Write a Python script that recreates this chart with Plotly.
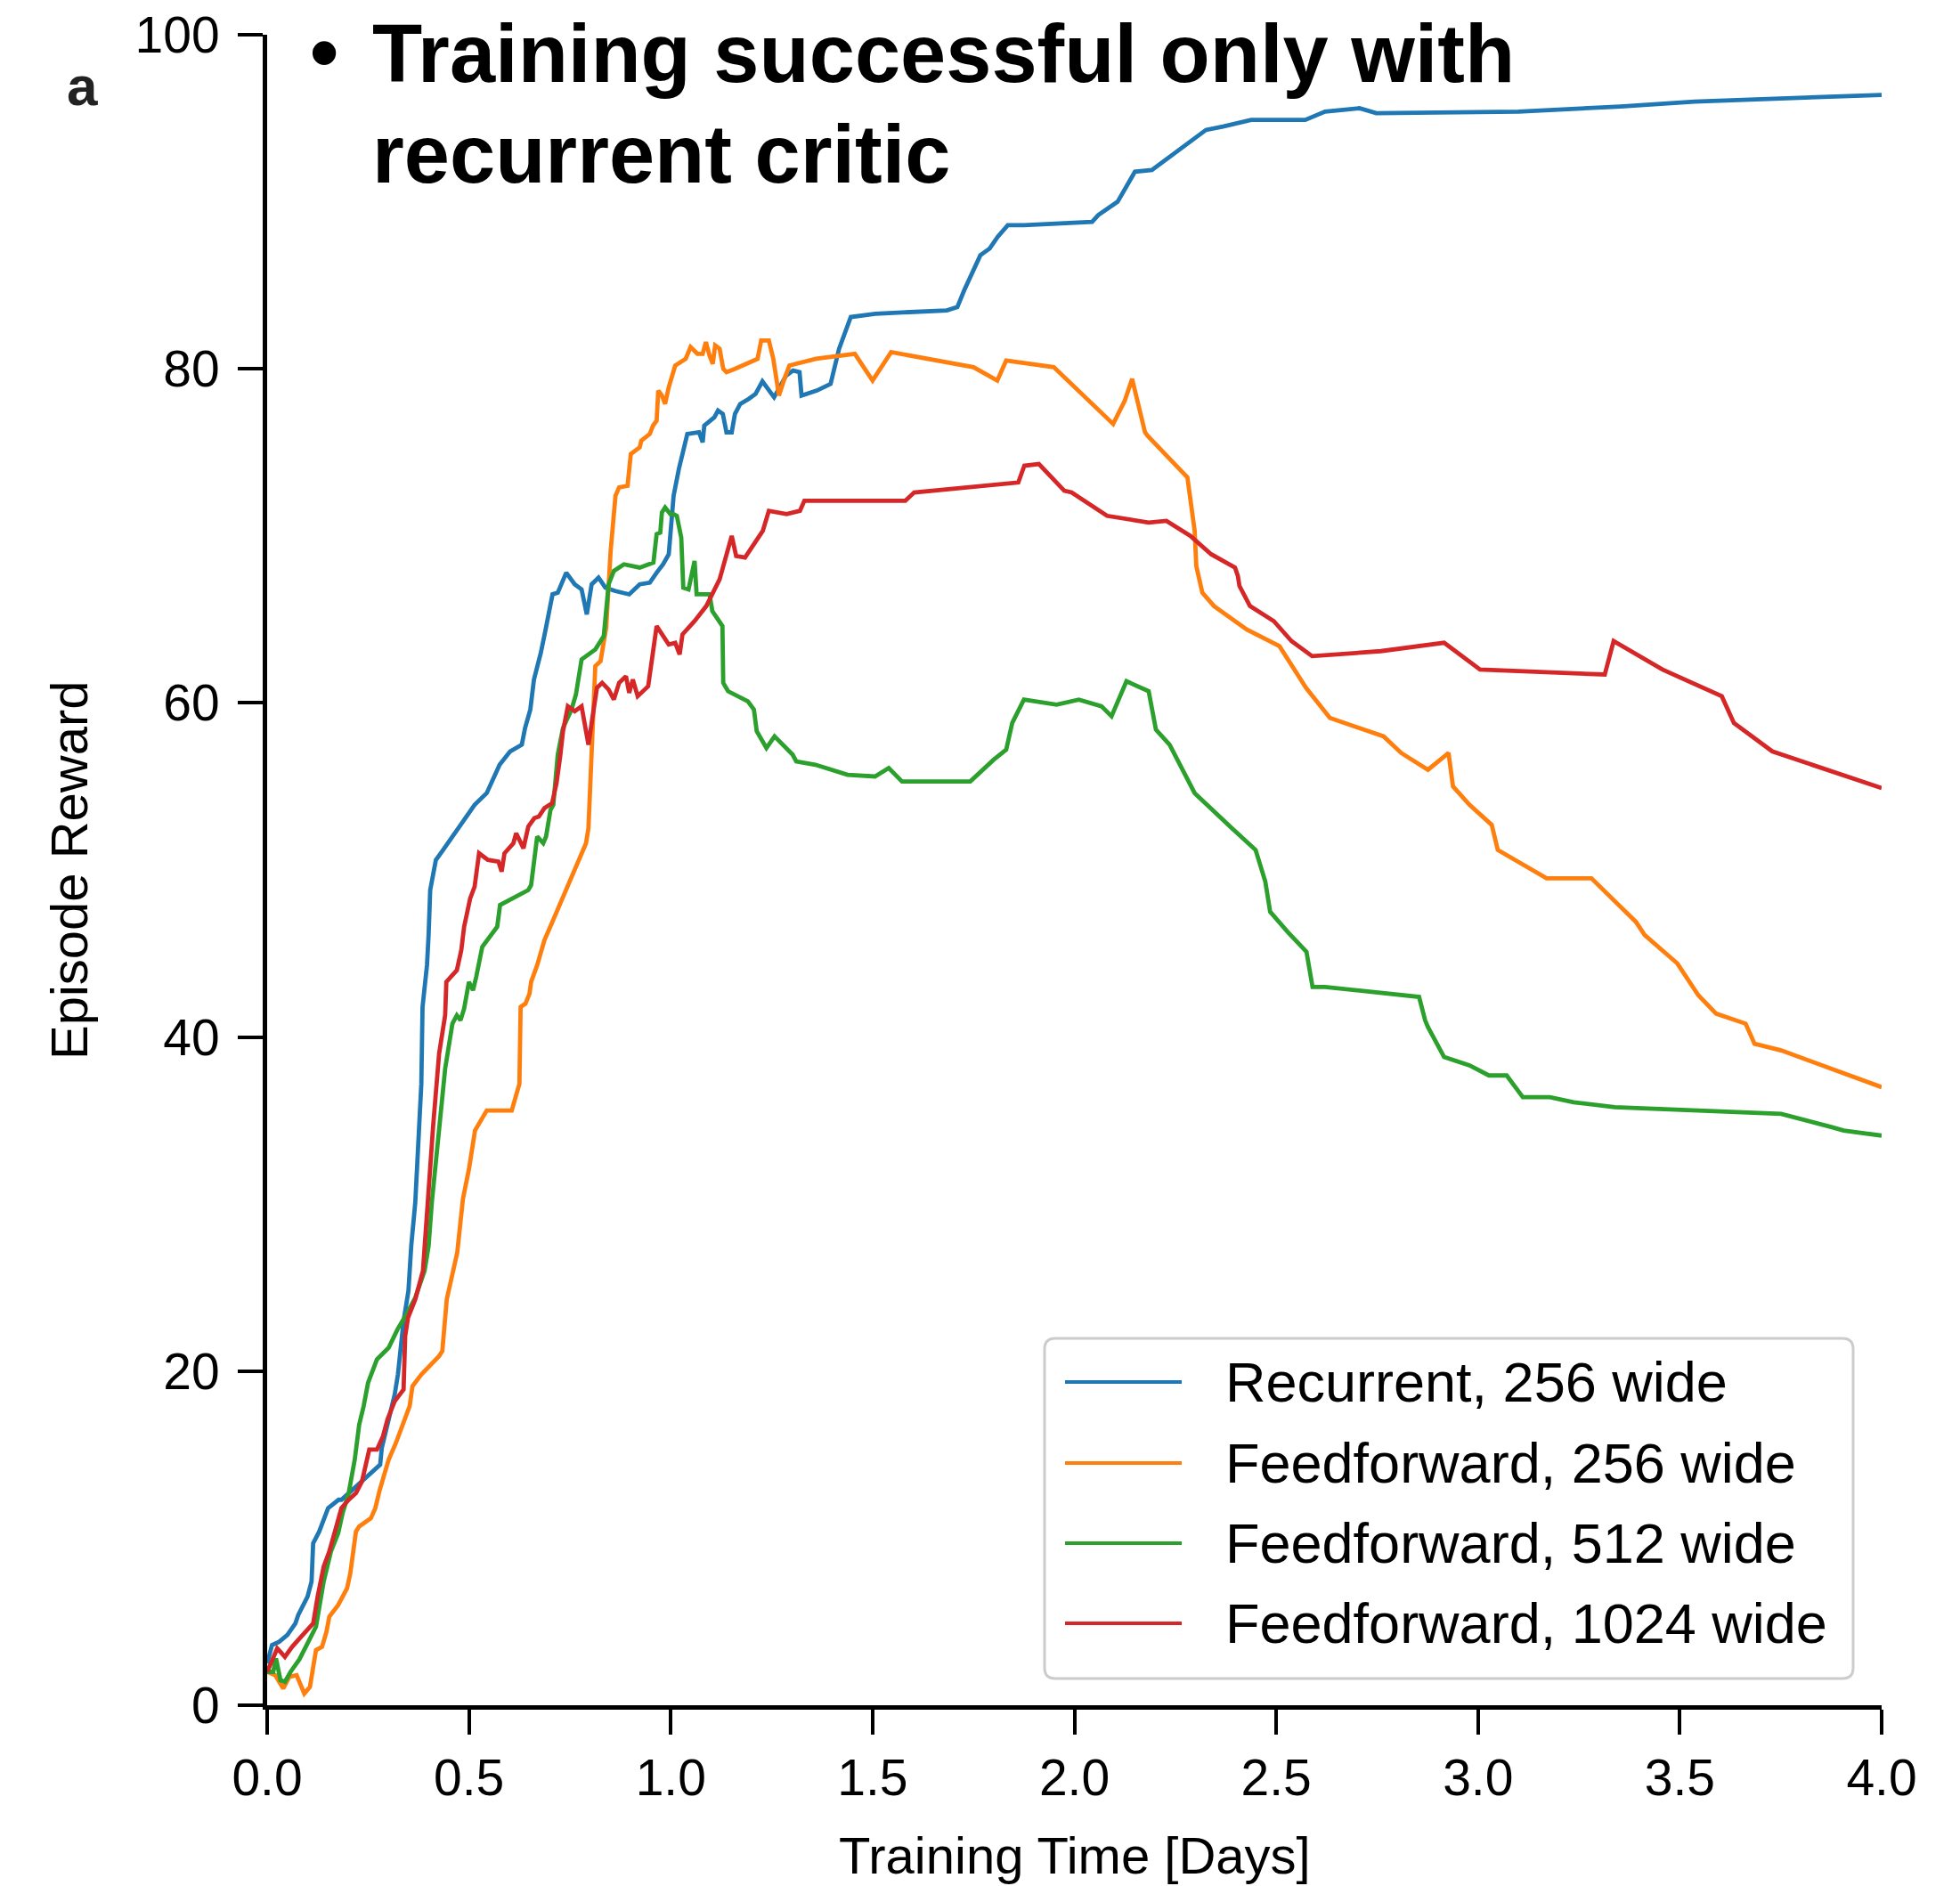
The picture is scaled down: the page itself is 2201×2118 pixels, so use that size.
import plotly.graph_objects as go

# ---- data: episode reward vs training time (days) for each critic ----
recurrent_256_days = [0.0, 0.012, 0.03, 0.05, 0.07, 0.077, 0.1, 0.11, 0.114, 0.129, 0.151, 0.177, 0.184,
                      0.28, 0.284, 0.316, 0.324, 0.338, 0.35, 0.357, 0.367, 0.382, 0.385, 0.396, 0.4,
                      0.404, 0.411, 0.418, 0.433, 0.47, 0.507, 0.514, 0.544, 0.558, 0.576, 0.602, 0.631,
                      0.639, 0.652, 0.661, 0.678, 0.69, 0.707, 0.72, 0.741, 0.762, 0.779, 0.792, 0.804,
                      0.821, 0.838, 0.863, 0.897, 0.923, 0.948, 0.965, 0.981, 0.995, 0.999, 1.007, 1.02,
                      1.037, 1.041, 1.07, 1.079, 1.083, 1.108, 1.117, 1.129, 1.138, 1.151, 1.159, 1.172,
                      1.193, 1.21, 1.227, 1.24, 1.256, 1.286, 1.303, 1.319, 1.324, 1.362, 1.396, 1.417,
                      1.446, 1.507, 1.684, 1.71, 1.727, 1.767, 1.79, 1.81, 1.835, 1.875, 2.044, 2.059,
                      2.107, 2.15, 2.192, 2.326, 2.368, 2.438, 2.572, 2.621, 2.706, 2.748, 3.1, 3.353,
                      3.536, 4.0]
recurrent_256_reward = [2.5, 3.6, 3.8, 4.2, 4.9, 5.4, 6.5, 7.4, 9.7, 10.4, 11.8, 12.3, 12.3,
                        14.4, 15.4, 18.6, 19.8, 23.0, 24.8, 27.5, 30.1, 37.2, 41.8, 44.3, 46.1,
                        48.8, 49.7, 50.6, 51.1, 52.4, 53.6, 53.9, 54.6, 55.4, 56.3, 57.1, 57.5,
                        58.5, 59.6, 61.4, 63.0, 64.4, 66.5, 66.6, 67.8, 67.1, 66.8, 65.3, 67.1,
                        67.5, 66.9, 66.7, 66.5, 67.1, 67.2, 67.8, 68.3, 68.9, 70.4, 72.4, 74.0,
                        75.7, 76.1, 76.2, 75.6, 76.6, 77.1, 77.5, 77.3, 76.2, 76.2, 77.3, 77.9,
                        78.2, 78.5, 79.25, 78.8, 78.3, 79.6, 79.9, 79.8, 78.4, 78.7, 79.1, 81.2,
                        83.1, 83.3, 83.5, 83.7, 84.7, 86.8, 87.2, 87.9, 88.6, 88.6, 88.8, 89.2,
                        90.0, 91.8, 91.9, 94.3, 94.5, 94.9, 94.9, 95.4, 95.6, 95.3, 95.4, 95.7,
                        96.0, 96.4]

ff_256_days = [0.0, 0.02, 0.04, 0.055, 0.073, 0.092, 0.106, 0.121, 0.136, 0.147, 0.154, 0.176, 0.198,
               0.206, 0.22, 0.228, 0.257, 0.268, 0.279, 0.301, 0.319, 0.342, 0.353, 0.36, 0.382, 0.426,
               0.434, 0.445, 0.463, 0.471, 0.485, 0.5, 0.515, 0.544, 0.606, 0.625, 0.628, 0.64, 0.65,
               0.654, 0.669, 0.687, 0.705, 0.728, 0.757, 0.772, 0.79, 0.796, 0.8, 0.805, 0.813, 0.826,
               0.84, 0.851, 0.863, 0.872, 0.893, 0.901, 0.923, 0.927, 0.948, 0.956, 0.965, 0.969, 0.978,
               0.986, 0.995, 1.011, 1.037, 1.049, 1.066, 1.079, 1.087, 1.096, 1.104, 1.11, 1.121, 1.13,
               1.138, 1.159, 1.193, 1.215, 1.224, 1.243, 1.254, 1.268, 1.283, 1.294, 1.36, 1.456, 1.5,
               1.546, 1.75, 1.809, 1.831, 1.949, 2.096, 2.125, 2.143, 2.175, 2.181, 2.28, 2.298, 2.302,
               2.317, 2.346, 2.427, 2.508, 2.574, 2.633, 2.766, 2.81, 2.876, 2.927, 2.938, 2.979, 3.034,
               3.049, 3.17, 3.281, 3.391, 3.413, 3.494, 3.546, 3.59, 3.663, 3.685, 3.751, 4.0]
ff_256_reward = [2.0, 1.8, 1.0, 1.7, 1.8, 0.7, 1.1, 3.3, 3.5, 4.4, 5.3, 6.0, 7.0,
                 7.9, 10.4, 10.7, 11.2, 11.8, 12.9, 14.7, 15.7, 17.3, 17.9, 19.1, 19.8, 20.9,
                 21.2, 24.3, 26.2, 27.1, 30.3, 32.1, 34.4, 35.6, 35.6, 37.2, 41.8, 42.0, 42.6,
                 43.3, 44.3, 45.8, 46.8, 48.1, 49.8, 50.5, 51.6, 52.5, 55.0, 57.0, 62.2, 62.5,
                 64.5, 69.1, 72.4, 72.9, 73.0, 74.9, 75.3, 75.7, 76.1, 76.6, 76.9, 78.7, 78.4,
                 77.9, 78.9, 80.2, 80.6, 81.3, 80.9, 80.9, 81.6, 80.8, 80.3, 81.4, 81.2, 80.0,
                 79.8, 80.0, 80.4, 80.6, 81.7, 81.7, 80.6, 78.4, 79.5, 80.2, 80.6, 80.9, 79.3,
                 81.0, 80.1, 79.3, 80.5, 80.1, 76.7, 78.1, 79.4, 76.2, 76.0, 73.5, 70.3, 68.2,
                 66.6, 65.8, 64.4, 63.4, 60.9, 59.1, 58.0, 57.0, 56.0, 57.0, 55.0, 53.9, 52.7,
                 51.2, 49.5, 49.5, 46.9, 46.1, 44.4, 42.5, 41.4, 40.8, 39.6, 39.2, 37.0]

ff_512_days = [0.0, 0.015, 0.022, 0.033, 0.044, 0.058, 0.08, 0.103, 0.121, 0.14, 0.158, 0.176, 0.187,
               0.202, 0.217, 0.228, 0.239, 0.25, 0.272, 0.301, 0.323, 0.345, 0.367, 0.39, 0.4, 0.408,
               0.422, 0.441, 0.459, 0.47, 0.479, 0.488, 0.5, 0.51, 0.518, 0.533, 0.57, 0.577, 0.647,
               0.654, 0.669, 0.684, 0.691, 0.702, 0.709, 0.72, 0.733, 0.754, 0.765, 0.779, 0.813,
               0.834, 0.846, 0.859, 0.884, 0.923, 0.957, 0.965, 0.974, 0.978, 0.986, 0.999, 1.007,
               1.015, 1.026, 1.031, 1.044, 1.059, 1.064, 1.096, 1.103, 1.128, 1.13, 1.142, 1.191,
               1.206, 1.213, 1.237, 1.257, 1.302, 1.311, 1.358, 1.438, 1.506, 1.54, 1.573, 1.742,
               1.8, 1.831, 1.846, 1.875, 1.956, 2.011, 2.067, 2.092, 2.129, 2.184, 2.202, 2.236,
               2.298, 2.39, 2.449, 2.473, 2.485, 2.528, 2.575, 2.59, 2.621, 2.854, 2.869, 2.876,
               2.916, 2.979, 3.027, 3.071, 3.111, 3.178, 3.237, 3.339, 3.751, 3.877, 3.906, 4.0]
ff_512_reward = [2.0, 2.0, 2.8, 1.5, 1.4, 2.0, 2.75, 3.8, 4.7, 7.4, 9.2, 10.3, 11.5,
                 12.7, 14.7, 16.8, 17.9, 19.3, 20.7, 21.4, 22.5, 23.4, 24.4, 26.0, 27.5, 30.1,
                 33.7, 38.1, 40.8, 41.3, 41.0, 41.7, 43.3, 42.8, 43.6, 45.4, 46.6, 47.9, 48.8,
                 49.1, 52.0, 51.6, 52.0, 53.6, 53.9, 56.9, 58.5, 59.6, 60.5, 62.6, 63.2,
                 64.0, 67.1, 67.9, 68.3, 68.1, 68.4, 70.1, 70.2, 71.4, 71.7, 71.3, 71.3,
                 71.2, 69.9, 66.9, 66.8, 68.5, 66.5, 66.5, 65.5, 64.6, 61.2, 60.7, 60.1,
                 59.6, 58.3, 57.3, 58.0, 56.9, 56.5, 56.3, 55.7, 55.6, 56.1, 55.3, 55.3,
                 56.6, 57.2, 58.8, 60.2, 59.9, 60.2, 59.8, 59.2, 61.3, 60.7, 58.4, 57.5,
                 54.6, 52.5, 51.2, 49.3, 47.5, 46.3, 45.1, 43.0, 43.0, 42.4, 41.0, 40.6,
                 38.8, 38.3, 37.7, 37.7, 36.4, 36.4, 36.1, 35.8, 35.4, 34.6, 34.4, 34.1]

ff_1024_days = [0.0, 0.01, 0.025, 0.044, 0.062, 0.088, 0.114, 0.125, 0.14, 0.154, 0.169, 0.184, 0.202,
                0.22, 0.235, 0.253, 0.272, 0.287, 0.298, 0.316, 0.338, 0.342, 0.349, 0.367, 0.386,
                0.39, 0.397, 0.411, 0.426, 0.441, 0.444, 0.455, 0.47, 0.481, 0.488, 0.503, 0.514,
                0.525, 0.547, 0.573, 0.581, 0.588, 0.61, 0.617, 0.635, 0.647, 0.662, 0.673, 0.687,
                0.706, 0.717, 0.726, 0.733, 0.745, 0.762, 0.779, 0.796, 0.804, 0.817, 0.83, 0.846,
                0.859, 0.872, 0.889, 0.897, 0.906, 0.918, 0.944, 0.965, 0.995, 1.011, 1.022, 1.029,
                1.059, 1.088, 1.121, 1.151, 1.162, 1.184, 1.228, 1.243, 1.287, 1.32, 1.331, 1.581,
                1.603, 1.861, 1.876, 1.912, 1.975, 1.993, 2.081, 2.184, 2.228, 2.287, 2.339, 2.398,
                2.405, 2.409, 2.435, 2.494, 2.538, 2.589, 2.759, 2.916, 3.005, 3.314, 3.336, 3.457,
                3.604, 3.634, 3.729, 4.0]
ff_1024_reward = [2.0, 2.6, 3.4, 2.9, 3.5, 4.2, 4.9, 6.5, 8.3, 9.2, 10.6, 11.8, 12.3,
                  12.7, 13.4, 15.3, 15.3, 16.1, 17.1, 18.2, 18.9, 22.1, 23.2, 24.3, 26.0,
                  27.5, 30.1, 34.6, 39.0, 41.3, 43.3, 43.6, 44.0, 45.2, 46.6, 48.3, 49.0,
                  51.0, 50.6, 50.5, 49.9, 51.0, 51.6, 52.2, 51.3, 52.6, 53.1, 53.2, 53.7,
                  54.0, 55.2, 56.8, 58.3, 59.8, 59.5, 59.8, 57.5, 58.8, 60.9, 61.2, 60.8,
                  60.2, 61.2, 61.6, 60.6, 61.4, 60.4, 61.0, 64.6, 63.5, 63.6, 62.9, 64.1,
                  64.9, 65.8, 67.4, 70.0, 68.8, 68.7, 70.3, 71.5, 71.3, 71.5, 72.1, 72.1,
                  72.6, 73.2, 74.2, 74.3, 72.7, 72.6, 71.2, 70.8, 70.9, 70.0, 68.9, 68.1,
                  67.6, 67.0, 65.8, 64.9, 63.7, 62.8, 63.1, 63.6, 62.0, 61.7, 63.7, 62.0,
                  60.4, 58.8, 57.1, 54.9]

series_names = ["Recurrent, 256 wide", "Feedforward, 256 wide",
                "Feedforward, 512 wide", "Feedforward, 1024 wide"]
series_colors = ["#1f77b4", "#ff7f0e", "#2ca02c", "#d62728"]
series_days = [recurrent_256_days, ff_256_days, ff_512_days, ff_1024_days]
series_reward = [recurrent_256_reward, ff_256_reward, ff_512_reward, ff_1024_reward]

x_ticks = [0.0, 0.5, 1.0, 1.5, 2.0, 2.5, 3.0, 3.5, 4.0]
y_ticks = [0, 20, 40, 60, 80, 100]

x_title = "Training Time [Days]"
y_title = "Episode Reward"
panel_label = "a"
headline = ["Training successful only with", "recurrent critic"]

# ---- page geometry (pixels) ----
W, H = 2201, 2118
ML, MR, MT, MB = 300, 88, 39, 203
PW, PH = W - ML - MR, H - MT - MB
FONT = "Liberation Sans, Arial, Helvetica, sans-serif"


def px(xpix):
    return (xpix - ML) / PW


def py(ypix):
    return (H - MB - ypix) / PH


def label(x, y, text, size, xanchor="center", bold=False, color="black", **kw):
    font = dict(family=FONT, size=size, color=color)
    if bold:
        font["weight"] = "bold"
    return dict(x=x, y=y, xref="paper", yref="paper", text=text, showarrow=False,
                xanchor=xanchor, yanchor="middle", font=font, **kw)


fig = go.Figure()
for name, color, xs, ys in zip(series_names, series_colors, series_days, series_reward):
    fig.add_trace(go.Scatter(x=xs, y=ys, mode="lines", name=name,
                             line=dict(color=color, width=4.8), showlegend=False))

axis_common = dict(showgrid=False, zeroline=False, showline=True, linecolor="black",
                   linewidth=5, ticks="outside", ticklen=28, tickwidth=4, tickcolor="black",
                   tickfont=dict(family=FONT, size=57, color="black"))

fig.update_xaxes(range=[0, 4], tickvals=x_ticks, ticktext=[f"{v:.1f}" for v in x_ticks],
                 ticklabelstandoff=0, **axis_common)
fig.update_yaxes(range=[0, 100], tickvals=y_ticks, ticktext=[str(v) for v in y_ticks],
                 ticklabelstandoff=9, **axis_common)

annotations = [
    label(0.5, py(2083), x_title, 58),
    label(px(77), 0.5, y_title, 58, textangle=-90),
    label(px(92), py(96), panel_label, 62, bold=True, color="#222222"),
    label(px(364), py(58), "\u2022", 92, bold=True),
    label(px(416), py(60), headline[0], 92, xanchor="left", bold=True),
    label(px(416), py(173), headline[1], 92, xanchor="left", bold=True),
]

# ---- legend panel ----
bx0, bx1, by0, by1 = 1173, 2081, 1503, 1885
rx, ry = 12 / PW, 12 / PH
L, R, T, B = px(bx0), px(bx1), py(by0), py(by1)
box_path = (f"M {L + rx},{T} L {R - rx},{T} Q {R},{T} {R},{T - ry} "
            f"L {R},{B + ry} Q {R},{B} {R - rx},{B} L {L + rx},{B} "
            f"Q {L},{B} {L},{B + ry} L {L},{T - ry} Q {L},{T} {L + rx},{T} Z")
shapes = [dict(type="path", path=box_path, xref="paper", yref="paper",
               line=dict(color="#cccccc", width=3), fillcolor="rgba(255,255,255,0.9)",
               layer="above")]

row_y = [1552, 1643, 1733, 1823]
for name, color, ry_pix in zip(series_names, series_colors, row_y):
    shapes.append(dict(type="line", xref="paper", yref="paper",
                       x0=px(1196), x1=px(1327), y0=py(ry_pix), y1=py(ry_pix),
                       line=dict(color=color, width=4), layer="above"))
    annotations.append(label(px(1374), py(ry_pix), name, 63, xanchor="left"))

fig.update_layout(
    width=W, height=H,
    margin=dict(l=ML, r=MR, t=MT, b=MB, autoexpand=False),
    paper_bgcolor="white", plot_bgcolor="white",
    annotations=annotations, shapes=shapes,
    showlegend=False,
)

fig.write_html("out.html")
